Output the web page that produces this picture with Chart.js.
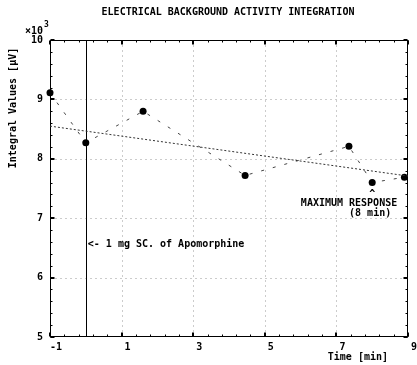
<!DOCTYPE html>
<html>
<head>
<meta charset="utf-8">
<script src="https://cdn.jsdelivr.net/npm/chart.js@4.4.2/dist/chart.umd.min.js"></script>
<style>
    html, body { margin: 0; padding: 0; background: #fff; }
    canvas { display: block; }
</style>
</head>
<body>
<canvas id="ebai-chart" width="417" height="365"></canvas>
<script>
// Measurements: time in min, integral in µV (x 10^3)
const times = [-1, 0, 1.6, 4.45, 7.35, 8, 8.9];
const integralValues = [9.11, 8.27, 8.80, 7.72, 8.21, 7.60, 7.69];

// Trend line end points
const trendTimes = [-1, 9];
const trendValues = [8.55, 7.71];

// Axis ticks
const xTicks = [-1, 1, 3, 5, 7, 9];
const yTicks = [5, 6, 7, 8, 9, 10];
const xMinorStep = 0.4;
const yMinorStep = 0.2;

// Annotations
const injectionTime = 0;
const injectionLabel = '<- 1 mg SC. of Apomorphine';
const injectionLabelValue = 6.56;
const maxResponseTime = 8;
const maxResponseValue = 7.60;
const maxResponseLabel = ['MAXIMUM RESPONSE', '(8 min)'];

const FONT_FAMILY = '"DejaVu Sans Mono", "Liberation Mono", monospace';
const font = { family: FONT_FAMILY, size: 10, weight: 'bold' };

function strokeLine(ctx, x1, y1, x2, y2) {
    ctx.beginPath();
    ctx.moveTo(x1, y1);
    ctx.lineTo(x2, y2);
    ctx.stroke();
}

function steps(min, max, step) {
    const out = [];
    const n = Math.round((max - min) / step);
    for (let i = 0; i <= n; i++) out.push(min + i * step);
    return out;
}

// Frame, dotted grid, inner ticks and the injection marker
const framePlugin = {
    id: 'frame',
    beforeDatasetsDraw(chart) {
        const { ctx, chartArea: a, scales: { x, y } } = chart;
        const L = Math.round(a.left) + 0.5, R = Math.round(a.right) - 0.5;
        const T = Math.round(a.top) + 0.5, B = Math.round(a.bottom) - 0.5;
        ctx.save();

        ctx.strokeStyle = '#999';
        ctx.lineWidth = 1;
        ctx.setLineDash([1, 4]);
        xTicks.slice(1, -1).forEach(v => {
            const px = Math.round(x.getPixelForValue(v)) + 0.5;
            strokeLine(ctx, px, T, px, B);
        });
        yTicks.slice(1, -1).forEach(v => {
            const py = Math.round(y.getPixelForValue(v)) + 0.5;
            strokeLine(ctx, L, py, R, py);
        });
        ctx.setLineDash([]);

        ctx.strokeStyle = '#000';
        ctx.strokeRect(L, T, R - L, B - T);

        // minor ticks
        steps(x.min, x.max, xMinorStep).forEach(v => {
            const px = Math.round(x.getPixelForValue(v)) + 0.5;
            strokeLine(ctx, px, B, px, B - 2);
            strokeLine(ctx, px, T, px, T + 2);
        });
        steps(y.min, y.max, yMinorStep).forEach(v => {
            const py = Math.round(y.getPixelForValue(v)) + 0.5;
            strokeLine(ctx, L, py, L + 2, py);
            strokeLine(ctx, R, py, R - 2, py);
        });

        // major ticks
        ctx.lineWidth = 2;
        xTicks.forEach(v => {
            const px = Math.round(x.getPixelForValue(v));
            strokeLine(ctx, px, B, px, B - 4);
            strokeLine(ctx, px, T, px, T + 4);
        });
        yTicks.forEach(v => {
            const py = Math.round(y.getPixelForValue(v));
            strokeLine(ctx, L, py, L + 4, py);
            strokeLine(ctx, R, py, R - 4, py);
        });

        // apomorphine injection
        ctx.lineWidth = 1;
        const ix = Math.round(x.getPixelForValue(injectionTime)) + 0.5;
        strokeLine(ctx, ix, T, ix, B);
        ctx.restore();
    },
    afterDraw(chart) {
        const { ctx, scales: { x, y } } = chart;
        ctx.save();
        ctx.fillStyle = '#000';
        ctx.font = `bold 10px ${FONT_FAMILY}`;
        ctx.textBaseline = 'middle';

        ctx.textAlign = 'center';
        ctx.fillText('ELECTRICAL BACKGROUND ACTIVITY INTEGRATION', 228, 12);

        ctx.textAlign = 'left';
        ctx.fillText('×10', 25, 31);
        ctx.font = `bold 8px ${FONT_FAMILY}`;
        ctx.fillText('3', 44, 25);
        ctx.font = `bold 10px ${FONT_FAMILY}`;

        ctx.textAlign = 'right';
        ctx.fillText('Time [min]', 388, 357);

        ctx.save();
        ctx.translate(13, 108);
        ctx.rotate(-Math.PI / 2);
        ctx.textAlign = 'center';
        ctx.fillText('Integral Values [µV]', 0, 0);
        ctx.restore();

        ctx.textAlign = 'left';
        ctx.fillText(injectionLabel, x.getPixelForValue(injectionTime) + 2, y.getPixelForValue(injectionLabelValue));

        const mx = x.getPixelForValue(maxResponseTime);
        const my = y.getPixelForValue(maxResponseValue);
        ctx.textAlign = 'center';
        ctx.fillText('^', mx, my + 12);
        ctx.textAlign = 'right';
        ctx.fillText(maxResponseLabel[0], mx + 25, my + 21);
        ctx.fillText(maxResponseLabel[1], mx + 19, my + 31);
        ctx.restore();
    }
};

new Chart(document.getElementById('ebai-chart'), {
    type: 'scatter',
    data: {
        datasets: [
            {
                data: trendTimes.map((t, i) => ({ x: t, y: trendValues[i] })),
                showLine: true,
                borderColor: '#333',
                borderWidth: 1,
                borderDash: [2, 2],
                pointRadius: 0
            },
            {
                data: times.map((t, i) => ({ x: t, y: integralValues[i] })),
                showLine: true,
                borderColor: '#444',
                borderWidth: 1,
                borderDash: [3, 9],
                pointRadius: 3.5,
                pointBackgroundColor: '#000',
                pointBorderWidth: 0,
                clip: false
            }
        ]
    },
    options: {
        responsive: false,
        animation: false,
        layout: { padding: { top: 40, right: 9, left: 0, bottom: 0 } },
        plugins: { legend: { display: false }, tooltip: { enabled: false } },
        scales: {
            x: {
                type: 'linear',
                min: -1,
                max: 9,
                afterBuildTicks: s => { s.ticks = xTicks.map(v => ({ value: v })); },
                afterFit: s => { s.height = 28; },
                grid: { display: false, drawTicks: false },
                border: { display: false },
                ticks: { font, color: '#000', labelOffset: 6, padding: 4, maxRotation: 0, autoSkip: false }
            },
            y: {
                min: 5,
                max: 10,
                afterBuildTicks: s => { s.ticks = yTicks.map(v => ({ value: v })); },
                afterFit: s => { s.width = 50; },
                grid: { display: false, drawTicks: false },
                border: { display: false },
                ticks: { font, color: '#000', padding: 7, autoSkip: false }
            }
        }
    },
    plugins: [framePlugin]
});
</script>
</body>
</html>
